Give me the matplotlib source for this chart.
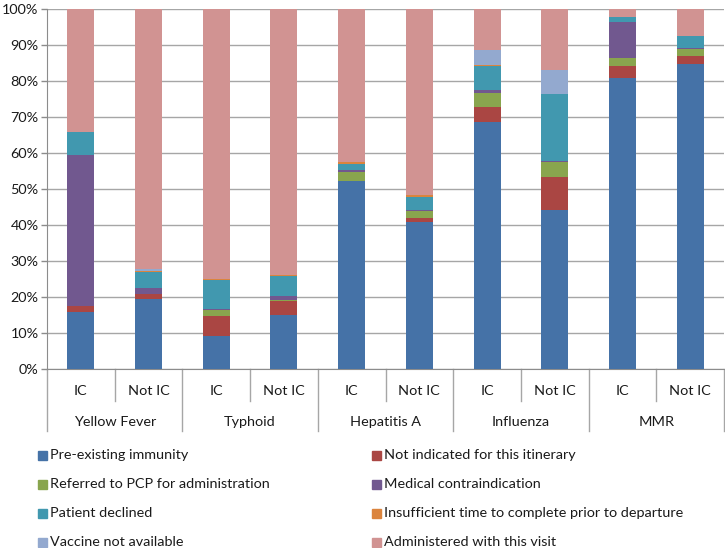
import matplotlib
matplotlib.use("Agg")
import matplotlib.pyplot as plt
from matplotlib.patches import Rectangle
import matplotlib.transforms as mtransforms
import numpy as np

plt.rcParams['font.family'] = ['Lato', 'DejaVu Sans']

groups = ["Yellow Fever", "Typhoid", "Hepatitis A", "Influenza", "MMR"]
subgroups = ["IC", "Not IC"]

series_names = [
    "Pre-existing immunity",
    "Not indicated for this itinerary",
    "Referred to PCP for administration",
    "Medical contraindication",
    "Patient declined",
    "Insufficient time to complete prior to departure",
    "Vaccine not available",
    "Administered with this visit",
]
colors = ["#4572A7", "#AA4643", "#89A54E", "#71588F",
          "#4198AF", "#DB843D", "#93A9CF", "#D19392"]

# order of bars: YF IC, YF Not IC, Typh IC, Typh Not IC, HepA IC, HepA Not IC,
# Flu IC, Flu Not IC, MMR IC, MMR Not IC
pre_existing   = [15.8, 19.5,  9.1, 14.9, 52.2, 40.7, 68.7, 44.1, 80.9, 84.7]
not_indicated  = [ 1.6,  1.2,  5.5,  3.9,  0.0,  1.2,  4.1,  9.2,  3.3,  2.2]
referred_pcp   = [ 0.0,  0.0,  1.7,  0.3,  2.5,  2.0,  3.9,  4.1,  2.2,  2.1]
medical_contra = [42.1,  1.7,  0.4,  1.3,  0.7,  0.4,  0.7,  0.5, 10.1,  0.3]
declined       = [ 6.3,  4.6,  8.1,  5.3,  1.5,  3.4,  6.8, 18.6,  1.2,  3.1]
insufficient   = [ 0.0,  0.2,  0.2,  0.3,  0.5,  0.5,  0.3,  0.0,  0.0,  0.2]
not_available  = [ 0.0,  0.6,  0.0,  0.0,  0.0,  0.0,  4.0,  6.5,  0.0,  0.0]
administered   = [34.2, 72.2, 75.0, 74.0, 42.6, 51.8, 11.5, 17.0,  2.3,  7.4]

data = [pre_existing, not_indicated, referred_pcp, medical_contra,
        declined, insufficient, not_available, administered]

W, H = 725, 548
fig = plt.figure(figsize=(W / 100, H / 100), dpi=100)
ax_l, ax_r, ax_t, ax_b = 47, 724, 9, 369
ax = fig.add_axes([ax_l / W, 1 - ax_b / H, (ax_r - ax_l) / W, (ax_b - ax_t) / H])

FS = 10.4
TXT = "#1a1a1a"

n = len(pre_existing)
x = np.arange(n)
bottom = np.zeros(n)
for vals, c, name in zip(data, colors, series_names):
    v = np.array(vals, dtype=float)
    ax.bar(x, v, width=0.4, bottom=bottom, color=c, label=name, zorder=3,
           linewidth=0)
    bottom += v

ax.set_xlim(-0.5, n - 0.5)
ax.set_ylim(0, 100)
ax.set_yticks(np.arange(0, 101, 10))
ax.set_yticklabels([f"{t}%" for t in range(0, 101, 10)], fontsize=FS, color=TXT)
ax.tick_params(axis='y', length=4, color="#8c8c8c", width=1, pad=2)
ax.set_xticks([])
ax.grid(axis='y', color="#a6a6a6", linewidth=1, zorder=0)
for s in ["top", "right"]:
    ax.spines[s].set_visible(False)
ax.spines["left"].set_color("#8c8c8c")
ax.spines["bottom"].set_color("#8c8c8c")

axh = ax_b - ax_t
trans = mtransforms.blended_transform_factory(ax.transData, ax.transAxes)
def py(pix):
    return -(pix - ax_b) / axh

# separators
for b in np.arange(-0.5, n, 1.0):
    idx = int(round(b + 0.5))
    yend = py(431) if idx % 2 == 0 else py(401)
    ax.plot([b, b], [0, yend], transform=trans, color="#a6a6a6", lw=1,
            clip_on=False, zorder=1)

for i in range(n):
    ax.text(i, py(391), subgroups[i % 2], transform=trans, ha='center',
            va='center', fontsize=FS, color=TXT)
for g, name in enumerate(groups):
    ax.text(2 * g + 0.5, py(422), name, transform=trans, ha='center',
            va='center', fontsize=FS, color=TXT)

# legend (manual, two columns, row-wise)
col_x = [38, 372]
row_y = [455, 484, 513, 542]
sq = 9
for k, (name, c) in enumerate(zip(series_names, colors)):
    cx = col_x[k % 2]
    cy = row_y[k // 2]
    fig.add_artist(Rectangle((cx / W, 1 - (cy + sq / 2) / H), sq / W, sq / H,
                             transform=fig.transFigure, color=c))
    fig.text((cx + sq + 3) / W, 1 - cy / H, name, ha='left', va='center',
             fontsize=FS, color=TXT)

fig.savefig("out.png", dpi=100)
